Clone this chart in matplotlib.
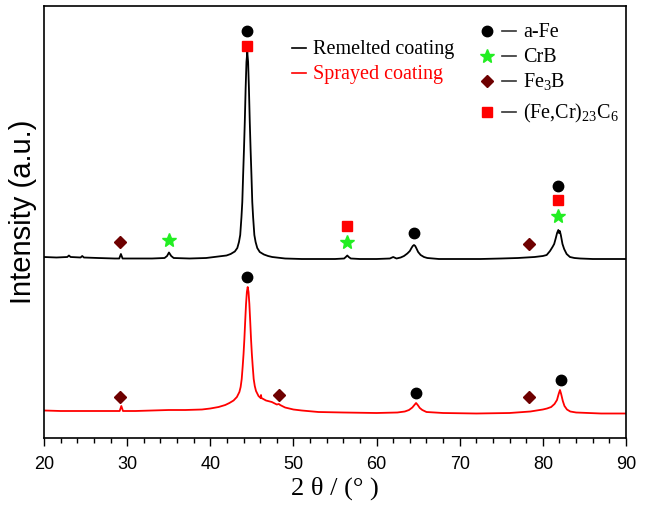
import matplotlib
matplotlib.use('Agg')
import matplotlib.pyplot as plt
from matplotlib.ticker import MultipleLocator

plt.rcParams['mathtext.fontset'] = 'custom'
plt.rcParams['mathtext.rm'] = 'Liberation Serif'
plt.rcParams['mathtext.it'] = 'Liberation Serif:italic'

# XRD patterns, intensity in a.u. (remelted trace sits on an offset)
tth_remelted = [20.0, 21.5, 22.8, 23.0, 23.2, 24.4, 24.6, 24.8, 26.5, 28.5,
                29.05, 29.25, 29.45, 31.0, 33.0, 34.5, 34.8, 35.03, 35.3, 35.6,
                37.5, 39.5, 41.45, 41.95, 42.45, 42.95, 43.25, 43.45, 43.6, 43.75,
                43.85, 43.95, 44.05, 44.15, 44.25, 44.35, 44.45, 44.55, 44.65, 44.75,
                44.85, 44.95, 45.05, 45.15, 45.3, 45.45, 45.65, 45.95, 46.45, 46.95,
                47.45, 49.0, 51.0, 53.0, 55.0, 56.1, 56.3, 56.48, 56.65, 56.9,
                58.0, 60.0, 61.6, 62.0, 62.4, 62.9, 63.3, 63.7, 64.0, 64.2,
                64.35, 64.5, 64.65, 64.8, 65.0, 65.3, 65.7, 66.1, 67.5, 70.0,
                72.5, 75.0, 77.0, 79.0, 80.0, 80.46, 80.86, 81.16, 81.36, 81.56,
                81.71, 81.86, 81.94, 82.04, 82.16, 82.36, 82.56, 82.86, 83.26, 83.8,
                84.5, 86.0, 88.0, 90.0]
int_remelted = [181, 180.5, 181, 182.5, 181, 180.5, 182, 180.5, 180, 179.5,
                179.5, 184, 179.5, 179.5, 179.5, 180, 182, 185.5, 182, 180,
                179.5, 180, 182, 182.5, 184, 186.5, 190, 196, 203, 221,
                236, 263, 288, 316, 349, 376, 386, 376, 349, 316,
                288, 263, 236, 221, 203, 196, 190, 186, 183.5, 182,
                181, 179.5, 179, 179, 179, 179.5, 181, 182.5, 181, 179.5,
                179, 179, 179.5, 181, 179.5, 180.5, 182, 184.5, 187, 190,
                192, 193, 192, 189.5, 186, 183, 181, 180, 179, 179,
                179, 179.5, 180, 181, 182, 183, 187, 191, 194, 200,
                205, 208, 205, 207, 203, 194, 189, 184, 181, 180,
                179.5, 179, 179, 179]

tth_sprayed = [20.0, 22.0, 24.0, 26.0, 28.0, 29.1, 29.3, 29.5, 31.0, 33.0,
               35.0, 37.0, 39.0, 40.0, 41.0, 41.8, 42.3, 42.8, 43.2, 43.5,
               43.65, 43.78, 43.9, 44.0, 44.1, 44.2, 44.3, 44.4, 44.5, 44.6,
               44.7, 44.8, 44.9, 45.0, 45.1, 45.22, 45.35, 45.5, 45.8, 46.05,
               46.1, 46.15, 46.7, 47.4, 48.0, 48.25, 48.4, 49.0, 50.0, 51.0,
               53.0, 56.0, 60.0, 62.5, 63.4, 63.9, 64.3, 64.55, 64.75, 64.95,
               65.2, 65.5, 66.0, 68.0, 72.0, 76.0, 78.5, 80.0, 80.5, 81.0,
               81.4, 81.7, 81.9, 82.06, 82.2, 82.4, 82.6, 82.9, 83.3, 84.0,
               87.0, 90.0]
int_sprayed = [27.5, 27, 27, 27, 27, 27, 32, 27, 27, 27.5,
               28, 28, 28.5, 29.5, 31, 33, 35, 37.5, 41, 46,
               51, 59, 72, 84, 99, 117, 134, 146, 151, 146,
               134, 117, 99, 84, 72, 59, 52, 47, 42, 40,
               43, 40, 37.5, 36, 33.5, 34, 33, 30.5, 28.5, 27.5,
               26, 25.5, 25, 25.5, 26.5, 28, 30.5, 33, 35, 33,
               30, 28, 26, 25, 24.5, 25, 26.5, 28.5, 29.5, 31,
               34, 38, 44, 48, 44, 37, 32, 28.5, 26.5, 25.5,
               24.5, 24.5]

# phase markers: (2theta, height)
afe_x = [44.36, 64.5, 81.82, 44.42, 64.74, 82.18]
afe_y = [407, 205, 252, 161, 45, 58]
crb_x = [35.03, 56.45, 81.82]
crb_y = [198, 196, 222]
fe3b_x = [29.14, 78.34, 29.14, 48.27, 78.34]
fe3b_y = [196, 194, 41, 43, 41]
carb_x = [44.36, 56.45, 81.82]
carb_y = [392, 212, 238]

phase_labels = ['a-Fe', 'CrB', 'Fe$_3$B', '(Fe,Cr)$_{23}$C$_6$']
sample_labels = ['Remelted coating', 'Sprayed coating']

c_afe = 'black'
c_crb = '#22ee22'
c_fe3b = '#6e0000'
c_carb = '#ff0000'

fig = plt.figure(figsize=(6.47, 5.06), dpi=100)
ax = fig.add_axes([44 / 647, 67 / 506, 582 / 647, 432 / 506])

ax.plot(tth_remelted, int_remelted, color='black', lw=1.3)
ax.plot(tth_sprayed, int_sprayed, color='#ff0000', lw=1.3)

ax.plot(afe_x, afe_y, 'o', color=c_afe, ms=7.5, ls='none')
ax.plot(crb_x, crb_y, '*', color=c_crb, ms=10.5, ls='none')
ax.plot(fe3b_x, fe3b_y, 'D', color=c_fe3b, ms=6.5, ls='none')
ax.plot(carb_x, carb_y, 's', color=c_carb, ms=6.5, ls='none')

# sample legend
serif = 'Liberation Serif'
for y, lab, col in [(390, sample_labels[0], 'black'), (365, sample_labels[1], '#ff0000')]:
    ax.plot([49.85, 51.5], [y, y], color=col, lw=1.2)
    ax.text(52.35, y, lab, color=col, family=serif, fontsize=14.5, va='center')

# phase legend
mk = [('o', c_afe, 7.5), ('*', c_crb, 10.5), ('D', c_fe3b, 6.5), ('s', c_carb, 6.5)]
ys = [407, 382, 357, 326]
for (m, col, ms), y, lab in zip(mk, ys, phase_labels):
    ax.plot([73.28], [y], m, color=col, ms=ms)
    ax.plot([75.1, 76.8], [y, y], color='#333333', lw=1.2)
    ax.text(77.6, y, lab, family=serif, fontsize=14.5, va='center')

ax.set_xlim(20, 90)
ax.set_ylim(0, 432)
ax.xaxis.set_major_locator(MultipleLocator(10))
ax.xaxis.set_minor_locator(MultipleLocator(2))
ax.tick_params(axis='x', which='major', direction='out', length=6, width=1,
               labelsize=13, pad=6)
ax.tick_params(axis='x', which='minor', direction='out', length=3.5, width=1)
for lab in ax.get_xticklabels():
    lab.set_family('Liberation Sans')
ax.set_yticks([])
for s in ax.spines.values():
    s.set_linewidth(1.2)

ax.set_xlabel('2 θ / (° )', family=serif, fontsize=19, labelpad=3)
ax.set_ylabel('Intensity (a.u.)', family='Liberation Sans', fontsize=21)
ax.yaxis.set_label_coords(-0.012, 0.525)

fig.savefig('out.png', dpi=100)
